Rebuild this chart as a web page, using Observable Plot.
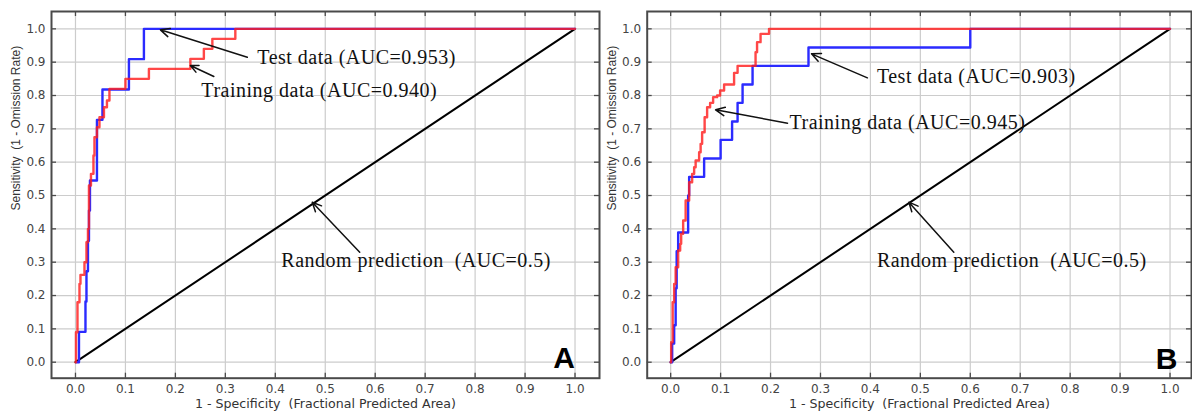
<!DOCTYPE html>
<html><head><meta charset="utf-8">
<script src="https://cdn.jsdelivr.net/npm/d3@7"></script>
<script src="https://cdn.jsdelivr.net/npm/@observablehq/plot@0.6"></script>
<style>
body{margin:0;background:#fff}
#wrap{position:relative;width:1192px;height:414px;overflow:hidden;background:#fff}
#wrap svg{position:absolute;top:0}
</style></head><body><div id="wrap"></div>
<script>
// ---- data ----
const ticks = [0, 0.1, 0.2, 0.3, 0.4, 0.5, 0.6, 0.7, 0.8, 0.9, 1.0];
const xLabel = "1 - Specificity  (Fractional Predicted Area)";
const yLabel = "Sensitivity  (1 - Omission Rate)";
const randomCurve = [[0, 0], [1, 1]];

// Panel A — ROC vertices [fpr, tpr]
const testA = [[0.002,0],[0.007,0],[0.007,0.091],[0.020,0.091],[0.020,0.182],[0.022,0.182],[0.022,0.273],[0.025,0.273],[0.025,0.364],[0.027,0.455],[0.029,0.455],[0.029,0.545],[0.043,0.545],[0.043,0.636],[0.043,0.727],[0.054,0.727],[0.054,0.818],[0.107,0.818],[0.107,0.909],[0.137,0.909],[0.137,1.0],[1,1]];
const trainA = [[0,0],[0.001,0.09],[0.004,0.18],[0.008,0.235],[0.010,0.262],[0.018,0.262],[0.018,0.30],[0.022,0.36],[0.025,0.40],[0.027,0.45],[0.027,0.53],[0.031,0.53],[0.031,0.565],[0.036,0.62],[0.038,0.675],[0.043,0.675],[0.043,0.705],[0.048,0.705],[0.048,0.735],[0.055,0.735],[0.057,0.765],[0.063,0.785],[0.068,0.785],[0.068,0.82],[0.100,0.82],[0.100,0.85],[0.147,0.85],[0.147,0.88],[0.230,0.88],[0.230,0.91],[0.257,0.91],[0.257,0.94],[0.274,0.94],[0.274,0.97],[0.320,0.97],[0.320,1.0],[1,1]];
const notesA = [
  {label: "Test data (AUC=0.953)", x: 0.364, y: 0.914},
  {label: "Training data (AUC=0.940)", x: 0.252, y: 0.815},
  {label: "Random prediction  (AUC=0.5)", x: 0.412, y: 0.305}
];
const arrowsA = [
  {x1: 0.344, y1: 0.915, x2: 0.170, y2: 0.997},
  {x1: 0.277, y1: 0.857, x2: 0.230, y2: 0.890},
  {x1: 0.569, y1: 0.330, x2: 0.474, y2: 0.480}
];
const letterA = {label: "A", x: 1.0, y: -0.016};

// Panel B
const testB = [[0,0],[0.003,0],[0.003,0.056],[0.007,0.056],[0.007,0.111],[0.010,0.111],[0.010,0.222],[0.012,0.278],[0.012,0.333],[0.015,0.333],[0.015,0.389],[0.035,0.389],[0.035,0.444],[0.035,0.5],[0.037,0.5],[0.037,0.556],[0.067,0.556],[0.067,0.611],[0.100,0.611],[0.100,0.667],[0.123,0.667],[0.123,0.722],[0.134,0.722],[0.134,0.778],[0.144,0.778],[0.144,0.833],[0.164,0.833],[0.164,0.889],[0.276,0.889],[0.276,0.944],[0.600,0.944],[0.600,1.0],[1,1]];
const trainB = [[0,0],[0.001,0.06],[0.004,0.18],[0.007,0.235],[0.010,0.285],[0.015,0.335],[0.019,0.355],[0.021,0.385],[0.025,0.425],[0.030,0.485],[0.037,0.54],[0.043,0.565],[0.047,0.585],[0.050,0.605],[0.057,0.63],[0.060,0.655],[0.063,0.69],[0.068,0.735],[0.073,0.765],[0.079,0.778],[0.085,0.778],[0.085,0.795],[0.093,0.795],[0.093,0.80],[0.099,0.80],[0.099,0.815],[0.107,0.815],[0.107,0.833],[0.127,0.833],[0.127,0.868],[0.134,0.868],[0.134,0.889],[0.170,0.889],[0.170,0.93],[0.173,0.96],[0.180,0.96],[0.180,0.985],[0.190,0.985],[0.197,1.0],[1,1]];
const notesB = [
  {label: "Test data (AUC=0.903)", x: 0.413, y: 0.857},
  {label: "Training data (AUC=0.945)", x: 0.238, y: 0.719},
  {label: "Random prediction  (AUC=0.5)", x: 0.413, y: 0.305}
];
const arrowsB = [
  {x1: 0.394, y1: 0.853, x2: 0.282, y2: 0.925},
  {x1: 0.234, y1: 0.717, x2: 0.090, y2: 0.757},
  {x1: 0.567, y1: 0.330, x2: 0.477, y2: 0.480}
];
const letterB = {label: "B", x: 1.015, y: -0.019};

// ---- drawing ----
const yDomain = [-0.048, 1.052];
const fmt = d => d.toFixed(1);
function panel({left, width, marginLeft, xDomain, test, train, notes, arrows, letter}) {
  const height = 414, marginTop = 11, marginBottom = 36.3, marginRight = 1;
  const innerW = width - marginLeft - marginRight;
  const innerH = height - marginTop - marginBottom;
  const tickLen = 5, frameColor = "#4a4a4a";
  const chart = Plot.plot({
    width, height, marginLeft, marginRight, marginTop, marginBottom,
    x: {domain: xDomain, axis: null},
    y: {domain: yDomain, axis: null},
    style: {fontFamily: "DejaVu Sans", fontSize: "12px", background: "transparent", overflow: "visible"},
    marks: [
      Plot.gridX(ticks, {stroke: "#cccccc", strokeOpacity: 1, strokeWidth: 1.2}),
      Plot.gridY(ticks, {stroke: "#cccccc", strokeOpacity: 1, strokeWidth: 1.2}),
      // tick labels
      Plot.text(ticks, {x: d => d, text: fmt, frameAnchor: "bottom", dy: 15, fill: "#444", fontSize: 12, fontFamily: "DejaVu Sans"}),
      Plot.text(ticks, {y: d => d, text: fmt, frameAnchor: "left", dx: -6, textAnchor: "end", fill: "#444", fontSize: 12, fontFamily: "DejaVu Sans"}),
      // inward tick marks on all four sides
      Plot.ruleX(ticks, {x: d => d, insetBottom: innerH - tickLen, stroke: frameColor, strokeWidth: 1.3}),
      Plot.ruleX(ticks, {x: d => d, insetTop: innerH - tickLen, stroke: frameColor, strokeWidth: 1.3}),
      Plot.ruleY(ticks, {y: d => d, insetRight: innerW - tickLen, stroke: frameColor, strokeWidth: 1.3}),
      Plot.ruleY(ticks, {y: d => d, insetLeft: innerW - tickLen, stroke: frameColor, strokeWidth: 1.3}),
      Plot.line(randomCurve, {x: d => d[0], y: d => d[1], stroke: "#000", strokeWidth: 2}),
      Plot.line(test, {x: d => d[0], y: d => d[1], curve: "step-after", stroke: "#2b2bff", strokeWidth: 2.4}),
      Plot.line(train, {x: d => d[0], y: d => d[1], curve: "step-after", stroke: "#ff1e1e", strokeOpacity: 0.82, strokeWidth: 2.4}),
      Plot.arrow(arrows, {x1: "x1", y1: "y1", x2: "x2", y2: "y2", stroke: "#111", strokeWidth: 1.5, headLength: 10, headAngle: 50}),
      Plot.text(notes, {x: "x", y: "y", text: "label", textAnchor: "start", fontFamily: "Liberation Serif", fontSize: 20, fill: "#111"}),
      Plot.text([letter], {x: "x", y: "y", text: "label", textAnchor: "end", lineAnchor: "bottom", fontFamily: "Liberation Sans", fontWeight: "bold", fontSize: 30, fill: "#000"}),
      Plot.text([xLabel], {text: d => d, frameAnchor: "bottom", dy: 30, fontFamily: "DejaVu Sans", fontSize: 12.6, fill: "#333"}),
      Plot.text([yLabel], {text: d => d, frameAnchor: "left", y: 0.455, rotate: -90, dx: -35, fontFamily: "Liberation Sans", fontSize: 12, fill: "#333"}),
      Plot.frame({stroke: frameColor, strokeWidth: 2})
    ]
  });
  chart.querySelectorAll('g[font-family="Liberation Serif"]').forEach(g => g.setAttribute("letter-spacing", "0.5"));
  chart.style.left = left + "px";
  return chart;
}

const wrap = document.getElementById("wrap");
wrap.appendChild(panel({left: 0, width: 600, marginLeft: 51, xDomain: [-0.048, 1.049], test: testA, train: trainA, notes: notesA, arrows: arrowsA, letter: letterA}));
wrap.appendChild(panel({left: 596, width: 596, marginLeft: 50.7, xDomain: [-0.047, 1.043], test: testB, train: trainB, notes: notesB, arrows: arrowsB, letter: letterB}));
</script></body></html>
